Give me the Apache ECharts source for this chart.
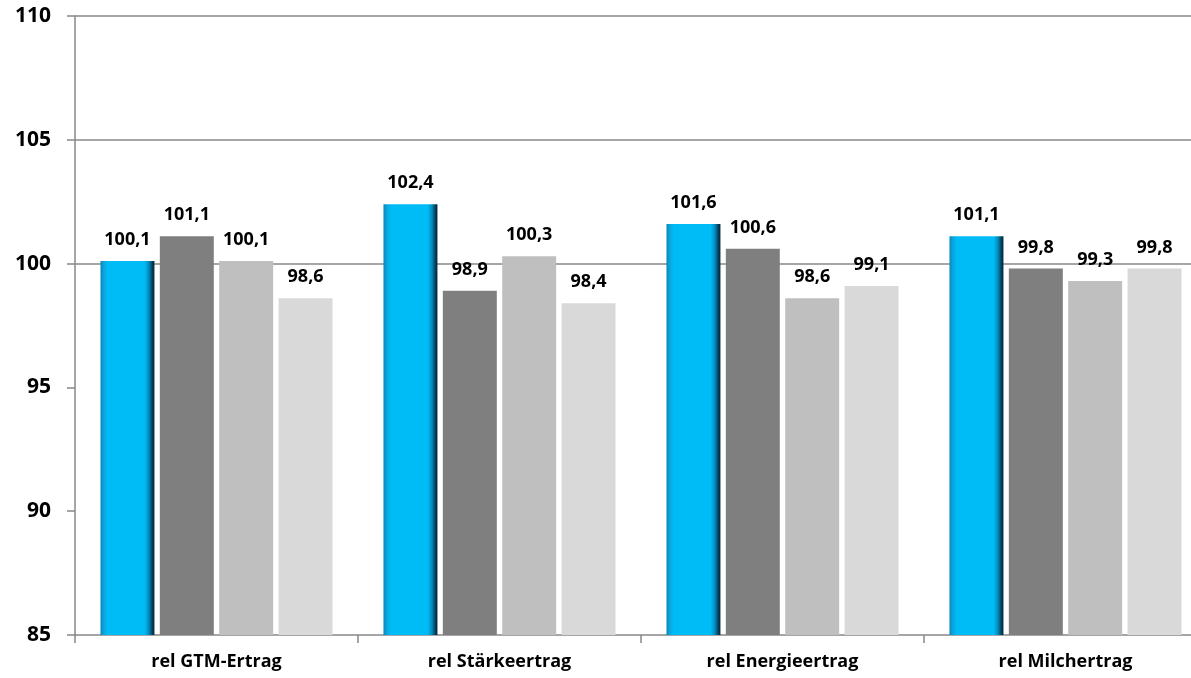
<!DOCTYPE html>
<html>
<head>
<meta charset="utf-8">
<script src="https://cdn.jsdelivr.net/npm/echarts@6/dist/echarts.min.js"></script>
<style>html,body{margin:0;padding:0;background:#fff;overflow:hidden}#c{width:1191px;height:678px}</style>
</head>
<body>
<div id="c"></div>
<script>
const categories = ['rel GTM-Ertrag', 'rel Stärkeertrag', 'rel Energieertrag', 'rel Milchertrag'];
const seriesA = [100.1, 102.4, 101.6, 101.1];
const seriesB = [101.1, 98.9, 100.6, 99.8];
const seriesC = [100.1, 100.3, 98.6, 99.3];
const seriesD = [98.6, 98.4, 99.1, 99.8];
const yTicks = [85, 90, 95, 100, 105, 110];

const chart = echarts.init(document.getElementById('c'));
const font = '"Open Sans", Lato, sans-serif';
const blue = new echarts.graphic.LinearGradient(0, 0, 1, 0, [
  {offset: 0, color: '#0b86b8'},
  {offset: 0.07, color: '#0aa9e0'},
  {offset: 0.14, color: '#00bcf6'},
  {offset: 0.82, color: '#00bcf6'},
  {offset: 0.9, color: '#0588b8'},
  {offset: 0.96, color: '#03405e'},
  {offset: 1, color: '#022436'}
]);
function mk(name, data, color) {
  return {
    name, type: 'bar', data,
    barGap: '10%', barCategoryGap: '18%',
    itemStyle: {color},
    label: {
      show: true, position: 'top', distance: 12,
      formatter: p => String(p.value).replace('.', ','),
      fontFamily: font, fontWeight: 'bold', fontSize: 18, color: '#000'
    }
  };
}
chart.setOption({
  animation: false,
  grid: {left: 75, right: -16, top: 16, bottom: 43, outerBoundsMode: 'none', containLabel: false},
  xAxis: {
    type: 'category', data: categories,
    axisLine: {lineStyle: {color: '#888', width: 1.5}},
    axisTick: {show: true, length: 8, lineStyle: {color: '#888', width: 1.5}},
    axisLabel: {fontFamily: font, fontWeight: 'bold', fontSize: 18, color: '#000', margin: 18}
  },
  yAxis: {
    type: 'value', min: yTicks[0], max: yTicks[yTicks.length - 1], interval: 5,
    axisLine: {show: true, lineStyle: {color: '#888', width: 1.5}},
    axisTick: {show: true, length: 8, lineStyle: {color: '#888', width: 1.5}},
    splitLine: {show: true, lineStyle: {color: ['rgba(0,0,0,0)', 'rgba(0,0,0,0)', 'rgba(0,0,0,0)', '#888', '#888', '#888'], width: 1.5}},
    axisLabel: {fontFamily: font, fontWeight: 'bold', fontSize: 21, color: '#000', margin: 24}
  },
  series: [
    mk('A', seriesA, blue),
    mk('B', seriesB, '#7f7f7f'),
    mk('C', seriesC, '#bfbfbf'),
    mk('D', seriesD, '#d9d9d9')
  ]
});
</script>
</body>
</html>
